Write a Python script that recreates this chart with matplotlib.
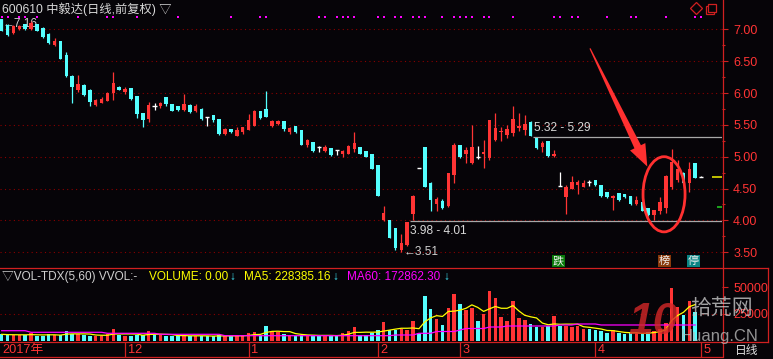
import numpy as np
import pandas as pd
import matplotlib
matplotlib.use('Agg')
import matplotlib.pyplot as plt
from matplotlib.patches import Ellipse, Polygon
from matplotlib.lines import Line2D
from matplotlib.transforms import IdentityTransform

plt.rcParams['font.family'] = ['Liberation Sans', 'Noto Sans CJK SC', 'DejaVu Sans']

# ---------------- data ----------------
opens = [7.16, 7.07, 6.94, 7.00, 7.08, 7.00, 7.08, 7.02, 6.93, 6.75,
         6.82, 6.60, 6.27, 6.05, 6.13, 6.05, 5.81, 5.85, 5.88, 6.00,
         6.10, 6.01, 6.08, 5.95, 5.68, 5.59, 5.80, 5.79, 5.93, 5.83,
         5.80, 5.73, 5.81, 5.72, 5.75, 5.62, 5.66, 5.59, 5.35, 5.44,
         5.33, 5.39, 5.42, 5.48, 5.71, 5.75, 5.48, 5.51, 5.56, 5.39,
         5.48, 5.42, 5.18, 5.23, 5.16, 5.09, 5.13, 5.10, 5.04, 5.05,
         5.12, 5.16, 5.09, 5.04, 4.87, 4.00, 4.00, 3.88, 3.54, 3.62,
         4.10, 4.82, 5.15, 4.58, 4.26, 4.31, 4.22, 4.72, 5.18, 5.04,
         4.90, 5.00, 5.04, 4.98, 5.27, 5.39, 5.34, 5.37, 5.45, 5.42,
         5.55, 5.29, 5.15, 5.25, 5.01, 4.54, 4.37, 4.50, 4.56, 4.53,
         4.60, 4.64, 4.56, 4.45, 4.35, 4.43, 4.41, 4.38, 4.25, 4.29,
         4.19, 4.09, 4.14, 4.19, 4.53, 4.63, 4.75, 4.58, 4.90, 4.68]
highs = [7.16, 7.08, 7.07, 7.06, 7.09, 7.13, 7.09, 7.03, 6.94, 6.87,
         6.82, 6.64, 6.28, 6.28, 6.14, 6.06, 5.91, 5.93, 6.01, 6.33,
         6.11, 6.09, 6.08, 5.95, 5.69, 5.86, 5.84, 5.86, 5.93, 5.83,
         5.80, 5.99, 5.82, 5.83, 5.76, 5.62, 5.66, 5.59, 5.45, 5.44,
         5.46, 5.47, 5.67, 5.73, 5.72, 6.03, 5.57, 5.57, 5.56, 5.47,
         5.48, 5.42, 5.28, 5.23, 5.17, 5.18, 5.13, 5.11, 5.11, 5.18,
         5.39, 5.16, 5.09, 5.04, 4.87, 4.22, 4.00, 3.88, 3.79, 3.98,
         4.40, 4.82, 5.15, 4.60, 4.37, 4.33, 4.74, 5.21, 5.19, 5.16,
         5.50, 5.17, 5.26, 5.58, 5.68, 5.47, 5.50, 5.80, 5.68, 5.65,
         5.56, 5.29, 5.25, 5.25, 5.10, 4.76, 4.55, 4.69, 4.63, 4.64,
         4.63, 4.64, 4.56, 4.45, 4.40, 4.43, 4.41, 4.38, 4.38, 4.29,
         4.19, 4.17, 4.36, 4.71, 5.12, 4.95, 4.76, 4.92, 4.90, 4.69]
lows = [6.97, 6.90, 6.92, 6.99, 6.99, 6.99, 6.97, 6.87, 6.77, 6.74,
        6.53, 6.25, 5.85, 6.02, 5.95, 5.79, 5.80, 5.85, 5.87, 5.89,
        6.04, 5.98, 5.89, 5.60, 5.46, 5.54, 5.73, 5.76, 5.79, 5.71,
        5.71, 5.71, 5.69, 5.70, 5.58, 5.48, 5.55, 5.34, 5.34, 5.37,
        5.33, 5.36, 5.42, 5.48, 5.59, 5.62, 5.46, 5.50, 5.41, 5.36,
        5.37, 5.18, 5.15, 5.08, 5.08, 5.07, 5.01, 5.02, 5.00, 5.04,
        5.08, 5.04, 4.99, 4.80, 4.38, 3.99, 3.72, 3.54, 3.51, 3.60,
        4.01, 4.82, 4.52, 4.14, 4.14, 4.18, 4.21, 4.58, 4.98, 4.90,
        4.89, 4.96, 4.83, 4.95, 5.24, 5.24, 5.29, 5.33, 5.41, 5.34,
        5.32, 5.12, 5.08, 5.00, 4.99, 4.54, 4.10, 4.50, 4.41, 4.52,
        4.54, 4.54, 4.37, 4.35, 4.16, 4.31, 4.35, 4.24, 4.24, 4.14,
        4.07, 4.00, 4.10, 4.12, 4.50, 4.61, 4.58, 4.44, 4.66, 4.68]
closes = [6.98, 6.91, 7.05, 7.05, 7.00, 7.10, 6.98, 6.88, 6.78, 6.81,
          6.54, 6.26, 6.10, 6.14, 5.97, 5.86, 5.89, 5.91, 6.00, 6.15,
          6.05, 6.07, 5.91, 5.67, 5.58, 5.81, 5.80, 5.84, 5.82, 5.72,
          5.73, 5.82, 5.70, 5.79, 5.59, 5.62, 5.57, 5.35, 5.44, 5.38,
          5.42, 5.46, 5.58, 5.72, 5.60, 5.63, 5.56, 5.56, 5.43, 5.45,
          5.38, 5.19, 5.26, 5.09, 5.16, 5.16, 5.02, 5.10, 5.09, 5.17,
          5.21, 5.05, 5.00, 4.81, 4.39, 4.11, 3.73, 3.56, 3.64, 3.98,
          4.38, 4.82, 4.53, 4.32, 4.33, 4.19, 4.74, 5.19, 4.99, 5.10,
          5.16, 5.00, 5.08, 5.58, 5.45, 5.41, 5.43, 5.59, 5.48, 5.51,
          5.33, 5.13, 5.21, 5.01, 5.05, 4.54, 4.53, 4.61, 4.61, 4.59,
          4.60, 4.55, 4.38, 4.36, 4.39, 4.32, 4.36, 4.25, 4.32, 4.15,
          4.08, 4.16, 4.29, 4.70, 4.92, 4.80, 4.59, 4.80, 4.67, 4.68]
volumes = [6200, 5600, 5600, 5600, 5600, 7100, 4900, 4900, 6200, 5600,
           5600, 9300, 6200, 6200, 5600, 4900, 4900, 4900, 6200, 11100,
           5600, 4900, 4900, 5600, 5600, 9300, 5600, 5600, 4600, 4600,
           4600, 5600, 4600, 4600, 4600, 4200, 4600, 5600, 4600, 4600,
           4600, 4600, 7400, 8300, 5600, 13900, 9300, 8300, 6500, 5600,
           4600, 5600, 5600, 5600, 4600, 4600, 5600, 4600, 7400, 9300,
           13000, 5600, 5600, 7100, 10200, 17300, 10200, 10200, 11100, 10200,
           18500, 7100, 41700, 29600, 20400, 14800, 30300, 43200, 34300, 28700,
           30800, 18500, 24700, 46300, 39500, 22500, 18500, 37000, 21600, 19400,
           15500, 13200, 13200, 13900, 23200, 13900, 13900, 13200, 13900, 11100,
           11100, 10200, 9300, 7100, 10200, 7100, 6200, 7700, 7400, 6500,
           8300, 9300, 11100, 16700, 49400, 31500, 24100, 37000, 26900, 0]
ma60_read = ([9540] * 5 + [8060] * 13 + [7130] * 9 + [6200] * 11 + [4910] * 29 +
             [5560] * 4 + [7130] * 3 + [8800] * 4 + [10190] * 1 + [11570] * 4 +
             [12960] * 3 + [13890] * 9 + [14820] * 3 + [15740] * 4 + [14820] * 17)
traded_days = 119           # last bar (index 119) has no volume
signal_days = [0, 1, 3, 4, 6, 13, 18, 19, 23, 30, 39, 44, 45, 54, 55, 57, 58, 59, 60,
               64, 65, 67, 68, 70, 71, 72, 75, 77, 78, 79, 80, 82, 83, 87, 94, 95, 97,
               98, 103, 107, 108, 113, 118, 119]
month_starts = [21, 42, 64, 78, 101, 119]
month_labels = ['12', '1', '2', '3', '4', '5']
first_label = '2017年'
price_ticks = [3.5, 4.0, 4.5, 5.0, 5.5, 6.0, 6.5, 7.0]
vol_ticks = [25000, 50000]
gaps = [(69, 3.98, 4.01, 'below'), (90, 5.32, 5.29, 'above')]
high_mark = (0, 7.16)
low_mark = (68, 3.51)
events = [('跌', 95, '#0a7a0a'), ('榜', 113, '#8a3a0c'), ('停', 118, '#0a8484')]
last_price = 4.68
green_mark = 4.21
arrow_tail = (100.1, 6.70)
arrow_tip = (109.85, 4.845)
circle_center = (112.7, 4.41)
circle_size = (7.15, 1.18)

# ---------------- layout ----------------
W, H = 773, 359
BG = '#060408'
RED = '#ff3434'
CYAN = '#54ffff'
AXRED = '#d02020'
GRID = '#8a0000'
X0, DX = 1.7, 5.877          # pixel of first candle, pixels per candle
Y7, PPU = 29.3, 63.7         # pixel row of 7.00, pixels per 1.00
VZERO, VPPU = 341.0, 54.0 / 50000

fig = plt.figure(figsize=(W / 100, H / 100), dpi=100)
fig.patch.set_facecolor(BG)


def fy(py):
    return 1 - py / H


ax = fig.add_axes([0, fy(268), 722 / W, 268 / H])
axv = fig.add_axes([0, fy(342), 722 / W, 74 / H])
axd = fig.add_axes([0, fy(357), 722 / W, 15 / H])
xlim = (-X0 / DX, (722 - X0) / DX)
for a in (ax, axv, axd):
    a.set_facecolor('none')
    a.set_xlim(*xlim)
    for s in a.spines.values():
        s.set_visible(False)
    a.set_xticks([])
ax.set_ylim(7 - (268 - Y7) / PPU, 7 + Y7 / PPU)
axv.set_ylim((VZERO - 342) / VPPU, (VZERO - 268) / VPPU)
axd.set_ylim(0, 1)
axd.set_yticks([])

O = np.array(opens); Hh = np.array(highs); L = np.array(lows); C = np.array(closes)
V = np.array(volumes, dtype=float)
n = len(O)
x = np.arange(n)
cols = np.where(C > O, RED, np.where(C < O, CYAN, '#ffffff'))

# grid
for p in price_ticks:
    ax.axhline(p, color=GRID, lw=0.8, ls=(0, (1, 3)), zorder=0)
axv.axhline(vol_ticks[0], color=GRID, lw=0.8, ls=(0, (1, 3)), zorder=0)

# candles
ax.vlines(x, L, Hh, colors=cols, lw=0.9, zorder=2)
body = np.abs(C - O)
ax.bar(x, body, bottom=np.minimum(O, C), width=0.6, color=cols, lw=0, zorder=3)
eq = C == O
ax.hlines(O[eq], x[eq] - 0.35, x[eq] + 0.35, colors='#ffffff', lw=1.0, zorder=3)

# signal dots
ax.scatter(x[signal_days], np.full(len(signal_days), 0.935), marker='s', s=3.5,
           color='#ff00ff', lw=0, transform=ax.get_xaxis_transform(), zorder=4)

# price axis
ax.yaxis.tick_right()
ax.set_yticks(price_ticks)
ax.set_yticklabels([f'{p:.2f}' for p in price_ticks])
ax.set_yticks(np.arange(3.75, 7.1, 0.5), minor=True)
ax.tick_params(axis='y', which='major', colors=AXRED, labelcolor=RED, length=4.5,
               width=0.8, pad=3.5, labelsize=9)
ax.tick_params(axis='y', which='minor', colors=AXRED, length=2.5, width=0.8)

# gap lines
for i, a_, b_, pos in gaps:
    yv = (a_ + b_) / 2
    ax.hlines(yv, i + 0.45, xlim[1], colors='#a8a8a8', lw=0.9, zorder=1)
    off = -10 if pos == 'below' else 9
    ax.annotate(f'{a_:.2f} - {b_:.2f}', xy=(i + 0.5, yv), xytext=(0, off),
                textcoords='offset pixels', color='#d8d8d8', fontsize=8.6,
                va='center', ha='left')

ax.annotate(f'←{high_mark[1]:.2f}', xy=high_mark, xytext=(1, -5), textcoords='offset pixels',
            color='#d0d0d0', fontsize=8.6, va='center', ha='left', zorder=1)
ax.annotate(f'←{low_mark[1]:.2f}', xy=low_mark, xytext=(2, 0), textcoords='offset pixels',
            color='#d0d0d0', fontsize=8.6, va='center', ha='left')

# events
for txt, i, c in events:
    ax.text(i - 0.25, 0.025, txt, transform=ax.get_xaxis_transform(), color='#f0f0f0',
            fontsize=8, ha='center', va='center', family=['Noto Sans CJK SC'],
            bbox=dict(boxstyle='square,pad=0.08', fc=c, ec='none'))

# right-edge price markers
ax.hlines(last_price, xlim[1] - 10 / DX, xlim[1], colors='#e0e000', lw=1.2, clip_on=False)
ax.hlines(green_mark, xlim[1] - 5 / DX, xlim[1], colors='#20c020', lw=1.2, clip_on=False)

# ellipse
ax.add_patch(Ellipse(circle_center, circle_size[0], circle_size[1], fill=False,
                     ec='#ff3030', lw=2.0, zorder=5))

# arrow
fig.canvas.draw()
t0 = np.array(ax.transData.transform(arrow_tail))
t1 = np.array(ax.transData.transform(arrow_tip))
d = t1 - t0
ln = np.hypot(*d)
u = d / ln
pp = np.array([-u[1], u[0]])
neck = t0 + u * (ln - 22)
pts = [t0 + pp * 0.6, neck + pp * 3.6, neck + pp * 8.5, t1,
       neck - pp * 8.5, neck - pp * 3.6, t0 - pp * 0.6]
fig.add_artist(Polygon(pts, closed=True, fc='#ff3030', ec='none', transform=IdentityTransform()))

# volume panel
axv.bar(x, V, width=0.6, color=np.where(C > O, RED, CYAN), lw=0, zorder=2)
vs = pd.Series(V[:traded_days])
ma5 = vs.rolling(5, min_periods=1).mean()
axv.plot(x[:traded_days], ma5, color='#ffff00', lw=0.9, zorder=3)
axv.plot(x[:traded_days], ma60_read, color='#ff00ff', lw=0.9, zorder=3)
axv.yaxis.tick_right()
axv.set_yticks(vol_ticks)
axv.set_yticklabels([str(v) for v in vol_ticks])
axv.tick_params(axis='y', colors=AXRED, labelcolor=RED, length=4, width=0.8, pad=4.5,
                labelsize=9)

# date strip
for i, lab in zip(month_starts, month_labels):
    axd.axvline(i, color=AXRED, lw=0.9)
    axd.text(i + 0.45, 0.45, lab, color=RED, fontsize=9.2, va='center', ha='left')
axd.text(0.05, 0.45, first_label, color=RED, fontsize=9.2, va='center', ha='left')

# frame lines
def hline(py, x0, x1):
    fig.add_artist(Line2D([x0 / W, x1 / W], [fy(py), fy(py)], color=AXRED, lw=0.9))


def vline(px, y0, y1):
    fig.add_artist(Line2D([px / W, px / W], [fy(y0), fy(y1)], color=AXRED, lw=0.9))


hline(268, 0, 768)
hline(342, 0, 768)
hline(357, 0, 722)
vline(722.5, 0, 357)
vline(768, 268, 342)

# header texts
fig.text(2 / W, fy(9), '600610 中毅达(日线,前复权) ▽', color='#d8d8d8', fontsize=8.8,
         va='center', ha='left')
segs = [(2, '▽VOL-TDX(5,60) VVOL:-', '#d0d0d0'), (149, 'VOLUME: 0.00', '#ffff00'),
        (229, '↓', '#40e8f8'), (244, 'MA5: 228385.16', '#ffff00'), (332, '↓', '#40e8f8'),
        (347, 'MA60: 172862.30', '#ff00ff'), (443, '↓', '#40e8f8')]
for px, s, c in segs:
    fig.text(px / W, fy(277), s, color=c, fontsize=8.5, va='center', ha='left')

# top-right icons
fig.add_artist(Line2D([696 / W], [fy(8)], marker='D', ms=6, mfc='none', mec=AXRED, mew=0.9))
fig.add_artist(Line2D([710 / W], [fy(9.5)], marker='s', ms=5.5, mfc='none', mec=AXRED, mew=0.9))
fig.add_artist(Line2D([712 / W], [fy(7.5)], marker='s', ms=5.5, mfc=BG, mec=AXRED, mew=0.9))

fig.text(735 / W, fy(351), '日线', color='#e0e0e0', fontsize=8.5, va='center', ha='left')

# watermark
fig.text(628 / W, fy(322), '10', color='#d42828', fontsize=32, fontweight='bold',
         style='italic', va='center', ha='left', alpha=0.8)
fig.text(690 / W, fy(308), '拾荒网', color='#c8c8c8', fontsize=15, va='center', ha='left',
         alpha=0.8, family=['Noto Sans CJK SC'])
fig.text(681 / W, fy(337), 'Huang.CN', color='#b8b8b8', fontsize=12, va='center', ha='left',
         alpha=0.8)

fig.savefig('out.png', dpi=100, facecolor=BG)
